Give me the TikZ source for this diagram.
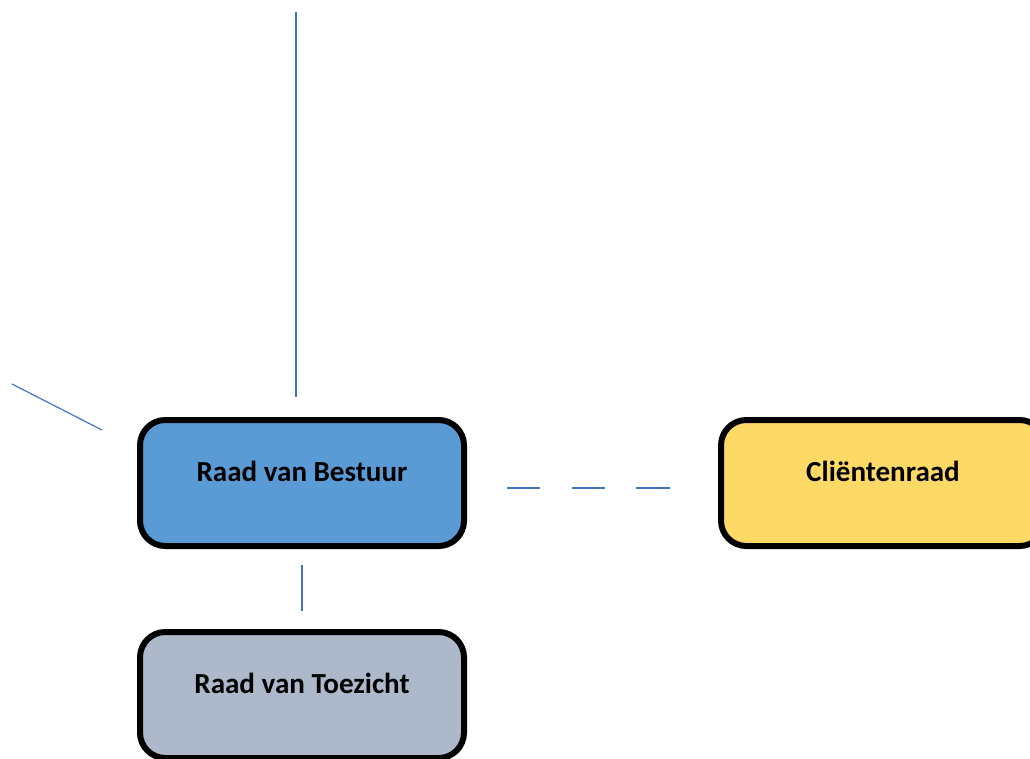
\documentclass[tikz,border=0pt]{standalone}
\usepackage{fontspec}
\setmainfont{Carlito}
\usepackage{tikz}
\usetikzlibrary{positioning, calc}

\definecolor{bestuurblue}{HTML}{5B9BD5}
\definecolor{clientyellow}{HTML}{FFD966}
\definecolor{toezichtgrey}{HTML}{ADB9CA}
\definecolor{linkblue}{HTML}{4472C4}

\begin{document}
\begin{tikzpicture}[
			x=0.75pt, y=-0.75pt,
			node distance=60pt,
			board/.style={rectangle, rounded corners=19pt, draw=black, line width=4.5pt, minimum width=243pt, minimum height=94.5pt, font=\fontsize{21.8}{26}\selectfont\bfseries, text height=15pt, text depth=17.5pt},
			link/.style={draw=linkblue, line width=0.9pt},
			advies/.style={link, dash pattern=on 25pt off 23.5pt}
			]
			\useasboundingbox (0,0) rectangle (1030,759);
			
			\node[board, fill=bestuurblue] (bestuur) at (302,483) {Raad van Bestuur};
			\node[board, fill=clientyellow] (client) [right=188.25pt of bestuur] {Cliëntenraad};
			\node[board, fill=toezichtgrey] (toezicht) [below=of bestuur] {Raad van Toezicht};
			
			% loose ends above and to the left
			\coordinate (boven) at (296,12);
			\coordinate (links a) at (12,384);
			\coordinate (links b) at (102,430);
			
			\draw[link, shorten >=15pt] (boven) -- (boven |- bestuur.north);
			\draw[link] (links a) -- (links b);
			
			% toezicht and advies
			\draw[link, shorten <=12pt, shorten >=13.5pt] (bestuur) -- (toezicht);
			\draw[advies, shorten <=30pt, shorten >=34.5pt] ([yshift=-3.75pt]bestuur.east) -- ([yshift=-3.75pt]client.west);
		\end{tikzpicture}
\end{document}
